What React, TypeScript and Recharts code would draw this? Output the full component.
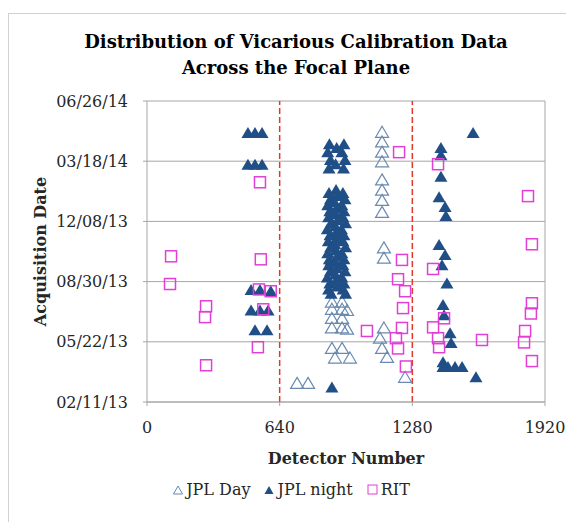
import {
  CartesianGrid,
  Legend,
  ReferenceLine,
  Scatter,
  ScatterChart,
  XAxis,
  YAxis,
} from "recharts";

// dates are Excel serial numbers (41316 = 02/11/13)
const detectorTicks = [0, 640, 1280, 1920];
const dateTicks = [41316, 41416, 41516, 41616, 41716, 41816];
const zoneEdges = [640, 1280];

const jplDayDetector = [
  1134, 1134, 1134, 1134, 1134, 1134, 1134, 1134, 1143, 1143, 1143, 1124, 1134,
  1158, 1245, 724, 777, 892, 892, 892, 941, 892, 941, 965, 892, 941, 892, 941,
  965, 892, 941, 907, 979,
];
const jplDayDate = [
  41764, 41748, 41731, 41715, 41685, 41668, 41651, 41631, 41572, 41555, 41439,
  41422, 41405, 41390, 41357, 41347, 41347, 41565, 41552, 41482, 41482, 41470,
  41470, 41468, 41455, 41455, 41439, 41439, 41437, 41405, 41405, 41389, 41389,
];

const jplNightDetector = [
  487, 521, 555, 487, 521, 555, 502, 545, 597, 502, 545, 584, 521, 579,
  880, 950, 872, 940, 885, 955, 878, 948, 915, 910,
  878, 945, 885, 955, 872, 940, 882, 950, 876, 945, 888, 958, 870, 938, 883,
  950, 875, 945, 886, 958, 872, 940, 880, 950, 877, 945, 885, 955, 870, 940,
  882, 950, 876, 946, 888, 958,
  912, 918, 905, 915, 910, 920, 908, 914, 916, 906, 912, 918, 910, 915, 908,
  913, 917,
  892,
  1573, 1418, 1418, 1418, 1409, 1438, 1442, 1409, 1438, 1423, 1447, 1428, 1433,
  1462, 1467, 1428, 1428, 1452, 1486, 1520, 1587,
];
const jplNightDate = [
  41763, 41763, 41763, 41710, 41710, 41710, 41502, 41502, 41500, 41468, 41468,
  41468, 41435, 41435,
  41744, 41744, 41731, 41731, 41718, 41718, 41704, 41704, 41738, 41711,
  41663, 41663, 41653, 41653, 41643, 41643, 41633, 41633, 41623, 41623, 41613,
  41613, 41603, 41603, 41593, 41593, 41583, 41583, 41573, 41573, 41563, 41563,
  41553, 41553, 41543, 41543, 41533, 41533, 41523, 41523, 41513, 41513, 41503,
  41503, 41496, 41496,
  41668, 41658, 41648, 41638, 41628, 41618, 41608, 41598, 41588, 41578, 41568,
  41558, 41548, 41538, 41528, 41518, 41508,
  41340,
  41763, 41738, 41726, 41690, 41656, 41640, 41625, 41577, 41560, 41543, 41513,
  41477, 41460, 41430, 41414, 41382, 41374, 41374, 41374, 41374, 41357,
];

const ritDetector = [
  116, 111, 545, 549, 540, 597, 561, 285, 280, 535, 285, 1216, 1230, 1211, 1245,
  1235, 1230, 1061, 1201, 1211, 1249, 1404, 1380, 1433, 1380, 1404, 1409, 1616,
  1838, 1857, 1857, 1852, 1824, 1819, 1857,
];
const ritDate = [
  41558, 41512, 41681, 41553, 41503, 41500, 41470, 41475, 41457, 41407, 41377,
  41731, 41552, 41520, 41500, 41472, 41439, 41434, 41422, 41405, 41375, 41711,
  41537, 41455, 41440, 41422, 41407, 41419, 41658, 41578, 41480, 41463, 41434,
  41415, 41384,
];

const toPoints = (xs: number[], ys: number[]) =>
  xs.map((x, i) => ({ detector: x, date: ys[i] }));

const DAY_COLOR = "#6a89b0";
const NIGHT_COLOR = "#1f4f86";
const RIT_COLOR = "#e23fd6";
const GRID = "#a6a6a6";
const FONT = "'DejaVu Serif', serif";

function excelDate(serial: number) {
  const d = new Date((serial - 25569) * 86400000);
  const mm = String(d.getUTCMonth() + 1).padStart(2, "0");
  const dd = String(d.getUTCDate()).padStart(2, "0");
  const yy = String(d.getUTCFullYear() % 100).padStart(2, "0");
  return `${mm}/${dd}/${yy}`;
}

const OpenTriangle = (p: any) => (
  <polygon
    points={`${p.cx},${p.cy - 6} ${p.cx + 6.5},${p.cy + 5} ${p.cx - 6.5},${p.cy + 5}`}
    fill="none"
    stroke={DAY_COLOR}
    strokeWidth={1.2}
  />
);

const FilledTriangle = (p: any) => (
  <polygon
    points={`${p.cx},${p.cy - 6} ${p.cx + 6.5},${p.cy + 5} ${p.cx - 6.5},${p.cy + 5}`}
    fill={NIGHT_COLOR}
  />
);

const OpenSquare = (p: any) => (
  <rect
    x={p.cx - 5.5}
    y={p.cy - 5.5}
    width={11}
    height={11}
    fill="none"
    stroke={RIT_COLOR}
    strokeWidth={1.5}
  />
);

function LegendContent() {
  const item = { display: "flex", alignItems: "center", margin: "0 7px" };
  return (
    <div
      style={{
        display: "flex",
        justifyContent: "center",
        fontFamily: FONT,
        fontSize: 16,
        color: "#262626",
      }}
    >
      <div style={item}>
        <svg width={10} height={10} style={{ marginRight: 3 }}>
          <polygon points="5,1 9.5,9 0.5,9" fill="none" stroke={DAY_COLOR} />
        </svg>
        JPL Day
      </div>
      <div style={item}>
        <svg width={10} height={10} style={{ marginRight: 3 }}>
          <polygon points="5,1 9.5,9 0.5,9" fill={NIGHT_COLOR} />
        </svg>
        JPL night
      </div>
      <div style={item}>
        <svg width={11} height={11} style={{ marginRight: 3 }}>
          <rect x={1} y={1} width={9} height={9} fill="none" stroke={RIT_COLOR} />
        </svg>
        RIT
      </div>
    </div>
  );
}

export default function App() {
  return (
    <div
      style={{
        position: "relative",
        marginTop: 5,
        width: 565,
        height: 508,
        borderTop: "1px solid #d0d0d0",
        borderLeft: "1px solid #d0d0d0",
      }}
    >
      <div
        style={{
          position: "absolute",
          top: 15,
          left: 0,
          width: 565,
          paddingLeft: 9,
          boxSizing: "border-box",
          textAlign: "center",
          fontFamily: FONT,
          fontWeight: "bold",
          fontSize: 18,
          lineHeight: "26px",
          color: "#000",
        }}
      >
        Distribution of Vicarious Calibration Data
        <br />
        Across the Focal Plane
      </div>
      <ScatterChart
        width={565}
        height={508}
        margin={{ top: 87, right: 29, bottom: 58, left: 0 }}
        style={{ fontFamily: FONT }}
      >
        <CartesianGrid stroke={GRID} vertical={false} />
        <XAxis
          type="number"
          dataKey="detector"
          domain={[0, 1920]}
          ticks={detectorTicks}
          height={62}
          stroke={GRID}
          tickSize={4}
          tickMargin={16}
          tick={{ fill: "#262626", fontSize: 16 }}
          label={{
            value: "Detector Number",
            position: "insideBottom",
            offset: 0,
            style: { fontWeight: "bold", fontSize: 16, fill: "#262626" },
          }}
        />
        <YAxis
          type="number"
          dataKey="date"
          domain={[41316, 41816]}
          ticks={dateTicks}
          width={138}
          stroke={GRID}
          tickSize={4}
          tickMargin={15}
          tickFormatter={excelDate}
          tick={{ fill: "#262626", fontSize: 16 }}
          label={{
            value: "Acquisition Date",
            angle: -90,
            position: "insideLeft",
            offset: 31,
            style: {
              fontWeight: "bold",
              fontSize: 16,
              fill: "#262626",
              textAnchor: "middle",
            },
          }}
        />
        <ReferenceLine x={1920} stroke={GRID} />
        {zoneEdges.map((x) => (
          <ReferenceLine
            key={x}
            x={x}
            stroke="#e0382b"
            strokeWidth={1.5}
            strokeDasharray="6 3"
          />
        ))}
        <Scatter
          name="JPL Day"
          data={toPoints(jplDayDetector, jplDayDate)}
          shape={OpenTriangle}
          isAnimationActive={false}
        />
        <Scatter
          name="JPL night"
          data={toPoints(jplNightDetector, jplNightDate)}
          shape={FilledTriangle}
          isAnimationActive={false}
        />
        <Scatter
          name="RIT"
          data={toPoints(ritDetector, ritDate)}
          shape={OpenSquare}
          isAnimationActive={false}
        />
        <Legend
          layout="vertical"
          align="center"
          verticalAlign="middle"
          content={<LegendContent />}
          wrapperStyle={{ top: 466, left: 0, width: 565, paddingLeft: 0 }}
        />
      </ScatterChart>
    </div>
  );
}
